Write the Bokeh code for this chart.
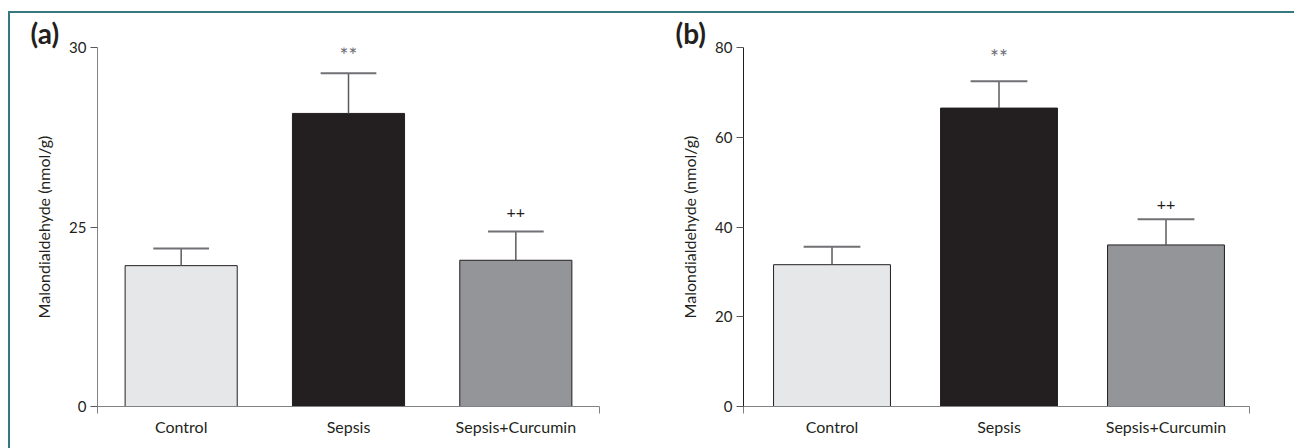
from bokeh.plotting import figure
from bokeh.models import ColumnDataSource, FixedTicker, Range1d, Div
from bokeh.layouts import row, column
from bokeh.embed import file_html
from bokeh.resources import INLINE
from bokeh.core.properties import value

# ---- data ----
groups = ["Control", "Sepsis", "Sepsis+Curcumin"]
group_pos = [0.5, 1.5, 2.5]
marks = ["", "**", "++"]

mda_a = [11.77, 24.49, 12.22]
sem_a = [1.43, 3.35, 2.40]
yticks_a = [0, 15, 30]
ytick_labels_a = ["0", "25", "30"]

mda_b = [31.6, 66.5, 36.0]
sem_b = [4.0, 6.0, 5.7]
yticks_b = [0, 20, 40, 60, 80]
ytick_labels_b = ["0", "20", "40", "60", "80"]

y_title = "Malondialdehyde (nmol/g)"

# ---- styles ----
FONT = "Lato"
fills = ["#e6e7e8", "#231f20", "#939598"]
mark_colors = ["#231f20", "#6d6e71", "#231f20"]
mark_sizes = ["16px", "21px", "16px"]
TEAL = "#367880"
FIG_H = 435
TOP = 34
FRAME_H = 359


def panel(tag, tag_off, means, sems, yticks, ylabels, ymax, xstart, xend, bw,
          capw, mark_off, left, fw, right, yaxis_color):
    hi = [m + s for m, s in zip(means, sems)]
    src = ColumnDataSource(dict(
        x=group_pos, top=means, hi=hi, fill=fills, mark=marks,
        mcol=mark_colors, msize=mark_sizes, moff=mark_off,
        cl=[x - capw / 2 for x in group_pos], cr=[x + capw / 2 for x in group_pos],
    ))
    p = figure(width=left + fw + right, height=FIG_H, output_backend="svg",
               toolbar_location=None, x_range=Range1d(xstart, xend),
               y_range=Range1d(0, ymax), min_border_left=left,
               min_border_right=right, min_border_top=TOP,
               min_border_bottom=FIG_H - TOP - FRAME_H)
    p.outline_line_color = None
    p.xgrid.visible = False
    p.ygrid.visible = False
    p.background_fill_color = "white"
    p.border_fill_color = "white"

    p.title.text = tag
    p.title.text_font = FONT
    p.title.text_font_style = "bold"
    p.title.text_font_size = "28px"
    p.title.text_color = "#231f20"
    p.title.align = "left"
    p.title.offset = tag_off
    p.title.standoff = -4
    p.title.vertical_align = "bottom"

    p.vbar(x="x", top="top", bottom=0, width=bw, source=src, fill_color="fill",
           line_color="#231f20", line_width=1)
    p.segment(x0="x", y0="top", x1="x", y1="hi", source=src,
              line_color="#5a5b5d", line_width=1.5)
    p.segment(x0="cl", y0="hi", x1="cr", y1="hi", source=src,
              line_color="#707174", line_width=2)
    p.text(x="x", y="hi", text="mark", y_offset="moff", source=src,
           text_align="center", text_baseline="middle", text_color="mcol",
           text_font=value(FONT), text_font_size="msize")

    xa = p.xaxis[0]
    xa.ticker = FixedTicker(ticks=group_pos, minor_ticks=[xstart, xend])
    xa.major_label_overrides = {x: g for x, g in zip(group_pos, groups)}
    xa.major_tick_out = 0
    xa.major_tick_in = 0
    xa.minor_tick_out = 7
    xa.minor_tick_in = 0
    xa.axis_line_color = "#808285"
    xa.minor_tick_line_color = "#808285"
    xa.major_label_standoff = 3
    xa.major_label_text_font = FONT
    xa.major_label_text_font_size = "16px"
    xa.major_label_text_color = "#231f20"

    ya = p.yaxis[0]
    ya.ticker = FixedTicker(ticks=yticks, minor_ticks=[])
    ya.major_label_overrides = {t: l for t, l in zip(yticks, ylabels)}
    ya.major_tick_out = 7
    ya.major_tick_in = 0
    ya.axis_line_color = yaxis_color
    ya.major_tick_line_color = "#58595b"
    ya.major_label_standoff = 4
    ya.major_label_text_font = FONT
    ya.major_label_text_font_size = "15px"
    ya.major_label_text_color = "#231f20"
    ya.axis_label = y_title
    ya.axis_label_text_font = FONT
    ya.axis_label_text_font_style = "normal"
    ya.axis_label_text_font_size = "16px"
    ya.axis_label_text_color = "#231f20"
    ya.axis_label_standoff = 13
    return p


pa = panel("(a)", -67, mda_a, sem_a, yticks_a, ytick_labels_a, 30, 0.0, 3.0,
           0.67, 0.333, [-20, -19, -19], 87, 502, 59, "#808285")
pb = panel("(b)", -68, mda_b, sem_b, yticks_b, ytick_labels_b, 80, -0.03, 3.0,
           0.70, 0.34, [-20, -25, -15], 85, 506, 45, "#231f20")

total_w = 2 + pa.width + pb.width
top_line = Div(text="", width=total_w, height=2, margin=(11, 0, 0, 8),
               styles={"background-color": TEAL})
left_line = Div(text="", width=2, height=FIG_H, margin=(0, 0, 0, 8),
                styles={"background-color": TEAL})

layout = column(top_line, row(left_line, pa, pb))

open("out.html", "w").write(file_html(layout, INLINE))
